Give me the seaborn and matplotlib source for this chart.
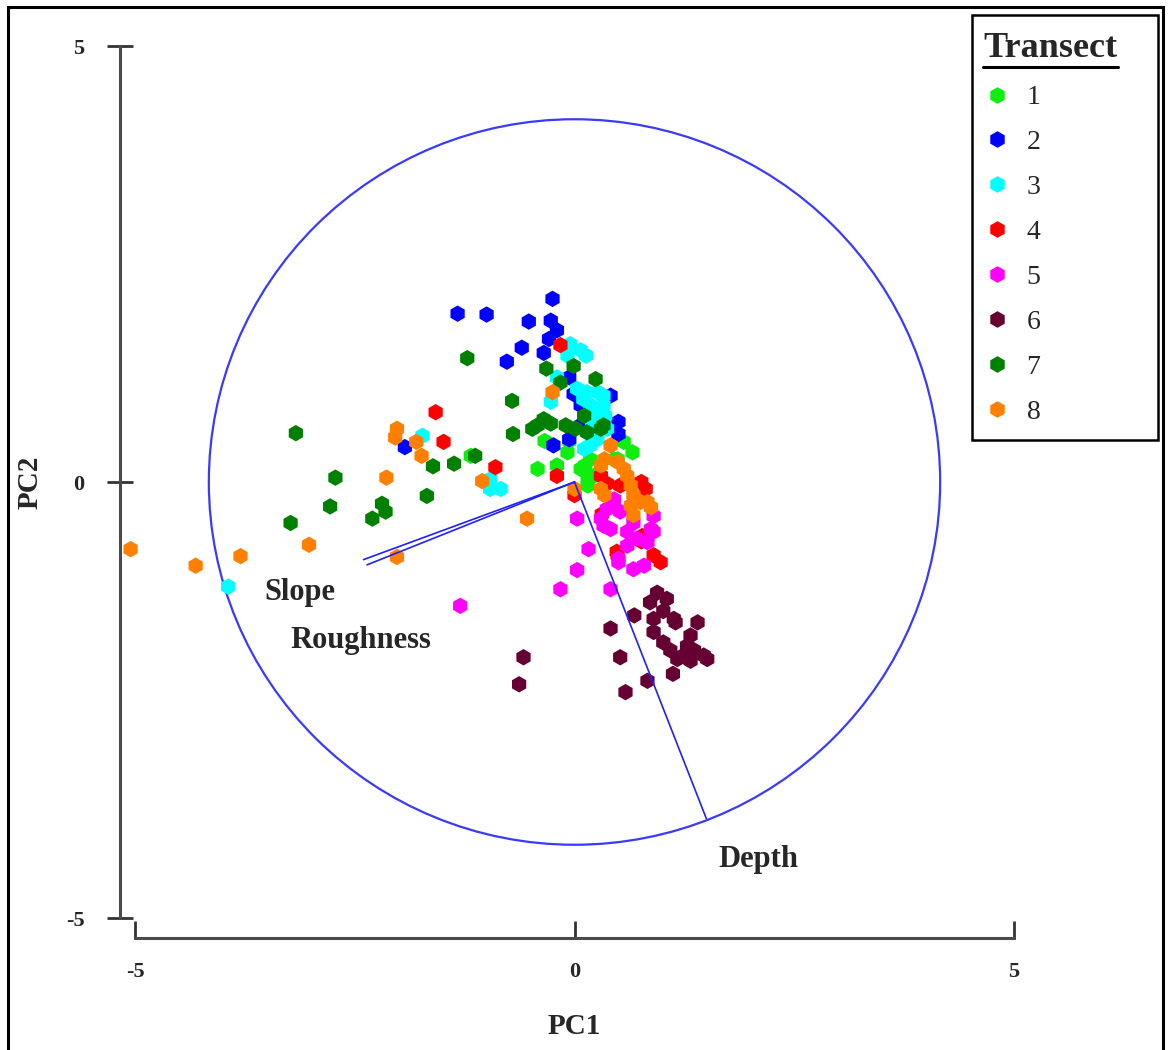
import numpy as np
import pandas as pd
import matplotlib
matplotlib.use("Agg")
import matplotlib.pyplot as plt
from matplotlib.patches import Circle, Rectangle
from matplotlib.lines import Line2D
from matplotlib.transforms import IdentityTransform
import seaborn as sns

# PCA scores per transect (PC1, PC2)
t1_pc1 = [-0.34, -0.08, -0.20, -0.42, 0.07, 0.15, 0.18, 0.56, 0.66, 0.49, 0.15, 0.22, 0.45, -1.18, 0.12, -0.06]
t1_pc2 = [0.47, 0.34, 0.19, 0.15, 0.15, 0.03, 0.26, 0.46, 0.34, 0.26, -0.04, 0.07, 0.26, 0.30, 0.19, 0.47]

t2_pc1 = [-1.33, -1.00, -0.25, -0.52, -0.27, -0.20, -0.29, -0.60, -0.35, -0.77, -0.06, -0.01, 0.07, 0.41, 0.50, 0.50, 0.07, -0.06, -0.24, -1.93]
t2_pc2 = [1.93, 1.92, 2.10, 1.84, 1.85, 1.74, 1.64, 1.54, 1.48, 1.38, 1.20, 1.01, 0.88, 0.99, 0.69, 0.55, 0.65, 0.49, 0.42, 0.40]

t3_pc1 = [-0.05, 0.07, 0.13, -0.08, -0.20, -0.27, 0.03, 0.14, 0.26, 0.33, 0.18, 0.33, 0.10, 0.26, 0.35, 0.20, 0.37, 0.11, 0.18, 0.26, -1.73, -0.96, -0.84, -0.96, -3.94]
t3_pc2 = [1.58, 1.51, 1.45, 1.45, 1.20, 0.92, 1.07, 1.03, 1.03, 0.99, 0.88, 0.88, 0.95, 0.80, 0.76, 0.65, 0.61, 0.38, 0.42, 0.49, 0.53, 0.03, -0.08, -0.08, -1.20]

t4_pc1 = [-0.16, -1.58, -1.49, -0.90, -0.20, 0.30, 0.37, 0.52, 0.76, 0.81, 0.00, 0.31, 0.77, 0.48, 0.49, 0.90, 0.98, 0.76]
t4_pc2 = [1.57, 0.80, 0.46, 0.17, 0.07, 0.07, -0.02, -0.04, 0.00, -0.08, -0.15, -0.37, -0.62, -0.80, -0.84, -0.84, -0.92, -0.68]

t5_pc1 = [-1.30, -0.16, 0.41, 0.03, 0.16, 0.03, 0.45, 0.33, 0.52, 0.60, 0.71, 0.90, 0.87, 0.67, 0.79, 0.50, 0.37, 0.41, 0.67, 0.60, 0.83, 0.30, 0.90, 0.50]
t5_pc2 = [-1.42, -1.23, -1.23, -1.01, -0.77, -0.42, -0.20, -0.50, -0.34, -0.57, -0.65, -0.39, -0.54, -1.00, -0.96, -0.88, -0.31, -0.54, -0.47, -0.73, -0.69, -0.42, -0.57, -0.92]

t6_pc1 = [-0.58, -0.63, 0.41, 0.52, 0.58, 0.68, 0.83, 1.12, 0.94, 1.05, 1.13, 0.90, 0.90, 1.01, 1.09, 1.24, 1.36, 1.47, 1.32, 1.40, 1.32, 1.28, 1.17, 1.51, 0.86, 1.15, 1.01]
t6_pc2 = [-2.01, -2.32, -1.68, -2.01, -2.41, -1.53, -2.28, -2.20, -1.27, -1.34, -1.57, -1.57, -1.72, -1.84, -1.93, -1.99, -1.93, -1.99, -2.05, -1.61, -1.76, -1.88, -2.03, -2.03, -1.38, -1.61, -1.48]

t7_pc1 = [-3.17, -2.72, -2.78, -3.23, -2.19, -2.15, -2.30, -1.68, -1.61, -1.37, -1.13, -0.70, -0.71, -0.42, -0.35, -1.22, -0.32, -0.01, 0.24, -0.16, -0.48, -0.10, 0.11, 0.14, 0.30, 0.33, -0.27, 0.01]
t7_pc2 = [0.56, 0.05, -0.28, -0.47, -0.25, -0.34, -0.42, -0.16, 0.18, 0.21, 0.30, 0.55, 0.93, 0.65, 0.72, 1.42, 1.30, 1.33, 1.18, 1.14, 0.61, 0.65, 0.76, 0.57, 0.61, 0.65, 0.67, 0.61]

t8_pc1 = [-5.05, -4.31, -3.80, -3.02, -2.02, -2.14, -2.02, -2.04, -1.80, -1.74, -1.05, -0.54, -0.25, 0.00, 0.41, 0.34, 0.30, 0.56, 0.60, 0.64, 0.67, 0.75, 0.64, 0.67, 0.83, 0.87, 0.30, 0.34, 0.49]
t8_pc2 = [-0.77, -0.96, -0.85, -0.72, -0.86, 0.05, 0.61, 0.51, 0.46, 0.30, 0.01, -0.42, 1.03, -0.08, 0.42, 0.26, 0.19, 0.15, 0.07, -0.04, -0.15, -0.23, -0.27, -0.38, -0.23, -0.29, -0.08, -0.15, 0.23]

transects = ["1", "2", "3", "4", "5", "6", "7", "8"]
colors = ["#10ee10", "#0000ff", "#00ffff", "#ff0000", "#ff00ff", "#660033", "#008000", "#ff8000"]

# Variable loadings (arrow tips) and the correlation circle radius
var_names = ["Slope", "Roughness", "Depth"]
var_pc1 = [-2.40, -2.36, 1.50]
var_pc2 = [-0.89, -0.95, -3.86]
circle_radius = 4.16

pc1_all = [t1_pc1, t2_pc1, t3_pc1, t4_pc1, t5_pc1, t6_pc1, t7_pc1, t8_pc1]
pc2_all = [t1_pc2, t2_pc2, t3_pc2, t4_pc2, t5_pc2, t6_pc2, t7_pc2, t8_pc2]
df = pd.concat(
    [pd.DataFrame({"PC1": a, "PC2": b, "Transect": t})
     for a, b, t in zip(pc1_all, pc2_all, transects)],
    ignore_index=True,
)

sns.set_style("white")
plt.rcParams["font.family"] = ["Liberation Serif", "DejaVu Serif"]
plt.rcParams["xtick.bottom"] = True
plt.rcParams["ytick.left"] = True

W, H = 1168, 1050
fig = plt.figure(figsize=(W / 100, H / 100), dpi=100)
ax = fig.add_axes([135 / W, 1 - 918 / H, (1014 - 135) / W, (918 - 46) / H])

sns.scatterplot(data=df, x="PC1", y="PC2", hue="Transect", hue_order=transects,
                palette=dict(zip(transects, colors)), marker="h", s=140,
                linewidth=0, legend=False, ax=ax, zorder=3, clip_on=False)

# correlation circle and loading vectors
ax.add_patch(Circle((0, 0), circle_radius, fill=False, edgecolor="#3a3aff", lw=1.6, zorder=2))
for vx, vy in zip(var_pc1, var_pc2):
    ax.plot([0, vx], [0, vy], color="#2020ff", lw=1.2, zorder=4)

ax.text(-3.12, -1.27, "Slope", fontsize=22, fontweight="bold", ha="center", va="center")
ax.text(-2.43, -1.82, "Roughness", fontsize=22, fontweight="bold", ha="center", va="center")
ax.text(2.09, -4.33, "Depth", fontsize=22, fontweight="bold", ha="center", va="center")

ax.set_xlim(-5, 5)
ax.set_ylim(-5, 5)

for side in ["top", "right"]:
    ax.spines[side].set_visible(False)
ax.spines["left"].set_position(("outward", 10.8))
ax.spines["bottom"].set_position(("outward", 14.4))
for side in ["left", "bottom"]:
    ax.spines[side].set_bounds(-5, 5)
    ax.spines[side].set_color("#4a4a4a")
    ax.spines[side].set_linewidth(2.2)
ax.tick_params(axis="y", left=True, direction="inout", length=19, width=2,
               color="#333333", pad=16, labelsize=16)
ax.tick_params(axis="x", bottom=True, direction="in", length=12, width=2,
               color="#333333", pad=17, labelsize=16)
ax.set_xticks([-5, 0, 5])
ax.set_yticks([-5, 0, 5])
ax.set_xticklabels(["-5", "0", "5"])
ax.set_yticklabels(["-5", "0", "5"])
for lab in ax.get_xticklabels() + ax.get_yticklabels():
    lab.set_fontweight("bold")

ax.set_xlabel("PC1", fontsize=21, fontweight="bold", va="center")
ax.set_ylabel("PC2", fontsize=21, fontweight="bold", va="center")
ax.xaxis.set_label_coords(0.5, -0.125)
ax.yaxis.set_label_coords(-0.119, 0.5)

# legend
handles = [Line2D([], [], marker="h", linestyle="", markersize=12, markerfacecolor=c,
                  markeredgewidth=0) for c in colors]
leg = fig.legend(handles, transects, title="Transect", loc="upper left",
                 bbox_to_anchor=(964 / W, 1 - 13 / H), frameon=False, fontsize=20,
                 title_fontproperties={"weight": "bold", "size": 26},
                 handlelength=1.0, handletextpad=0.55,
                 labelspacing=0.70, alignment="left", borderpad=0.2)
fig.add_artist(Rectangle((972 / W, 1 - 440 / H), (1158 - 972) / W, (440 - 15) / H,
                         transform=fig.transFigure, fill=False, edgecolor="black", lw=1.8))

fig.canvas.draw()
bb = leg.get_title().get_window_extent()
fig.add_artist(Line2D([bb.x0, bb.x1], [bb.y0 - 2, bb.y0 - 2], transform=IdentityTransform(),
                      color="black", lw=2.2))

# outer frame
fig.add_artist(Rectangle((8 / W, -0.05), (1163 - 8) / W, 1.05 - 7 / H,
                         transform=fig.transFigure, fill=False, edgecolor="black", lw=2.2))

fig.savefig("out.png", dpi=100)
